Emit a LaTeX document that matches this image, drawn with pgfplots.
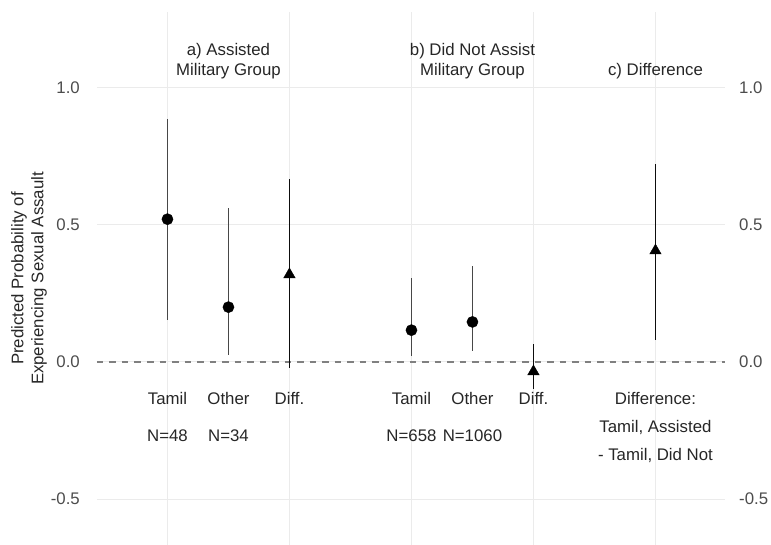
\documentclass[border=0pt]{standalone}
\usepackage{pgfplots}
\pgfplotsset{compat=1.18}
\usepackage{pgfplotstable}
\usepackage{fontspec}
\setmainfont{Liberation Sans}
\newcommand{\fs}{\fontsize{16.8}{20}\selectfont}

% estimates and 95% intervals
\pgfplotstableread{
x y lo hi
1 0.521 0.153 0.885
2 0.200 0.025 0.561
5 0.116 0.022 0.306
6 0.146 0.040 0.349
}\groups
\pgfplotstableread{
x y lo hi
3 0.319 -0.022 0.666
7 -0.035 -0.100 0.066
9 0.406 0.080 0.724
}\diffs

\begin{document}
\begin{tikzpicture}
\pgfplotsset{
  panel/.style={
    width=628pt, height=533pt, scale only axis,
    xmin=-0.155, xmax=10.14, ymin=-0.668, ymax=1.277,
    axis line style={draw=none}, major tick length=0pt,
    ytick={-0.5,0,0.5,1}, yticklabels={-0.5,0.0,0.5,1.0},
  },
}
\begin{axis}[
  panel,
  clip=false,
  xtick={1,3,5,7,9}, xticklabels={},
  grid=major, major grid style={color=black!8, line width=0.9pt},
  yticklabel style={font=\fs, text=black!70, inner sep=0pt, xshift=-17pt},
  ylabel={Predicted Probability of\\Experiencing Sexual Assault},
  ylabel style={at={(axis description cs:-0.0796,0.5)}, anchor=south,
    align=center, font=\fs, text=black!85, inner sep=0pt},
]
\addplot[black!50, line width=1.4pt, dash pattern=on 6.5pt off 6pt]
  coordinates {(-0.155,0) (10.14,0)};

% intervals
\addplot[draw=none, mark=none, forget plot,
  error bars/.cd, y dir=both, y explicit, error mark=none,
  error bar style={draw=black!72, line width=1.9pt}]
  table[x=x, y=y, y error plus expr=\thisrow{hi}-\thisrow{y},
        y error minus expr=\thisrow{y}-\thisrow{lo}] {\groups};
\addplot[draw=none, mark=none, forget plot,
  error bars/.cd, y dir=both, y explicit, error mark=none,
  error bar style={draw=black!95, line width=1.9pt}]
  table[x=x, y=y, y error plus expr=\thisrow{hi}-\thisrow{y},
        y error minus expr=\thisrow{y}-\thisrow{lo}] {\diffs};

% point estimates
\addplot[only marks, mark=*, mark size=5.6pt, black] table[x=x, y=y] {\groups};
\addplot[only marks, mark=triangle*, mark size=6.6pt, black] table[x=x, y=y] {\diffs};

% panel titles
\node[font=\fs, text=black!85, anchor=base] at (axis cs:2,1.1176) {a) Assisted};
\node[font=\fs, text=black!85, anchor=base] at (axis cs:2,1.0448) {Military Group};
\node[font=\fs, text=black!85, anchor=base] at (axis cs:6,1.1176) {b) Did Not Assist};
\node[font=\fs, text=black!85, anchor=base] at (axis cs:6,1.0448) {Military Group};
\node[font=\fs, text=black!85, anchor=base] at (axis cs:9,1.0448) {c) Difference};

% category labels
\node[font=\fs, text=black!85, anchor=base] at (axis cs:1,-0.1565) {Tamil};
\node[font=\fs, text=black!85, anchor=base] at (axis cs:2,-0.1565) {Other};
\node[font=\fs, text=black!85, anchor=base] at (axis cs:3,-0.1565) {Diff.};
\node[font=\fs, text=black!85, anchor=base] at (axis cs:5,-0.1565) {Tamil};
\node[font=\fs, text=black!85, anchor=base] at (axis cs:6,-0.1565) {Other};
\node[font=\fs, text=black!85, anchor=base] at (axis cs:7,-0.1565) {Diff.};
\node[font=\fs, text=black!85, anchor=base] at (axis cs:1,-0.291) {N=48};
\node[font=\fs, text=black!85, anchor=base] at (axis cs:2,-0.291) {N=34};
\node[font=\fs, text=black!85, anchor=base] at (axis cs:5,-0.291) {N=658};
\node[font=\fs, text=black!85, anchor=base] at (axis cs:6,-0.291) {N=1060};
\node[font=\fs, text=black!85, anchor=base] at (axis cs:9,-0.1565) {Difference:};
\node[font=\fs, text=black!85, anchor=base] at (axis cs:9,-0.258) {Tamil, Assisted};
\node[font=\fs, text=black!85, anchor=base] at (axis cs:9,-0.360) {- Tamil, Did Not};
\end{axis}

% duplicate y axis on the right
\begin{axis}[
  panel,
  hide x axis,
  yticklabel pos=right,
  yticklabel style={font=\fs, text=black!70, inner sep=0pt, xshift=14pt},
]
\end{axis}

\pgfresetboundingbox
\path[use as bounding box] ([xshift=-97pt]current axis.south west)
  rectangle ([xshift=46pt,yshift=12pt]current axis.north east);
\end{tikzpicture}
\end{document}
